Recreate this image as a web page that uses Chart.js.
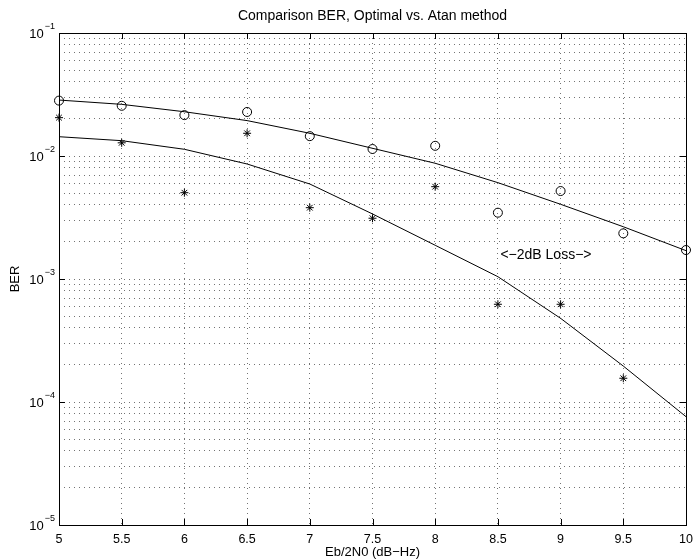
<!DOCTYPE html>
<html>
<head>
<meta charset="utf-8">
<title>Comparison BER, Optimal vs. Atan method</title>
<script src="https://cdn.jsdelivr.net/npm/chart.js"></script>
<style>
  html, body { margin: 0; padding: 0; background: #fff; }
  canvas { display: block; }
</style>
</head>
<body>
<canvas id="berChart" width="693" height="560"></canvas>
<script>
// Eb/2N0 steps (dB-Hz)
const ebn0 = [5, 5.5, 6, 6.5, 7, 7.5, 8, 8.5, 9, 9.5, 10];

// simulated points, optimal receiver (circles)
const optimalSim = [0.0282, 0.0256, 0.0215, 0.0228, 0.0145, 0.0114, 0.0121, 0.00346, 0.00519, 0.00235, 0.00172];

// simulated points, atan method (asterisks) - nothing shown at 10 dB
const atanSim = [0.0205, 0.0128, 0.00503, 0.0153, 0.0038, 0.00312, 0.00563, 0.000623, 0.000623, 0.000156, null];

// theory curves
const optimalTheory = [0.0285, 0.0263, 0.0229, 0.0194, 0.0153, 0.01155, 0.00873, 0.00607, 0.00405, 0.00266, 0.0017];
const atanTheory = [0.01435, 0.01332, 0.01134, 0.00861, 0.00592, 0.00338, 0.00188, 0.001044, 0.000479, 0.000196, 0.000076];

// y axis decades that get a label
const decades = [-5, -4, -3, -2, -1];

const FONT = "'Liberation Sans', Arial, Helvetica, sans-serif";

const toPoints = (ys) => ebn0.map((x, i) => ({ x: x, y: ys[i] })).filter(p => p.y !== null);

// every 1..9 x 10^e value so the dotted grid looks like matlab's log grid
const logGridValues = () => {
    const vals = [];
    for (let e = -5; e <= -2; e++) {
        for (let n = 1; n <= 9; n++) {
            vals.push(n * Math.pow(10, e));
        }
    }
    vals.push(0.1);
    return vals;
};

// box, inward ticks, y labels with superscripts, annotation text
const matlabAxes = {
    id: 'matlabAxes',
    beforeDatasetsDraw(chart) {
        const { ctx, chartArea: a, scales } = chart;
        ctx.save();
        ctx.strokeStyle = '#000';
        ctx.lineWidth = 1;
        ctx.setLineDash([]);
        ctx.beginPath();
        scales.x.ticks.forEach(t => {
            const px = Math.round(scales.x.getPixelForValue(t.value)) + 0.5;
            ctx.moveTo(px, a.top); ctx.lineTo(px, a.top + 6);
            ctx.moveTo(px, a.bottom); ctx.lineTo(px, a.bottom - 6);
        });
        decades.forEach(e => {
            const py = Math.round(scales.y.getPixelForValue(Math.pow(10, e))) + 0.5;
            ctx.moveTo(a.left, py); ctx.lineTo(a.left + 6, py);
            ctx.moveTo(a.right, py); ctx.lineTo(a.right - 6, py);
        });
        ctx.stroke();
        ctx.strokeRect(Math.round(a.left) + 0.5, Math.round(a.top) + 0.5,
            Math.round(a.right - a.left), Math.round(a.bottom - a.top));
        ctx.restore();
    },
    afterDraw(chart) {
        const { ctx, scales } = chart;
        ctx.save();
        ctx.fillStyle = '#000';
        decades.forEach(e => {
            const py = scales.y.getPixelForValue(Math.pow(10, e));
            const sup = '\u2212' + Math.abs(e);
            ctx.font = '9px ' + FONT;
            ctx.textAlign = 'right';
            ctx.textBaseline = 'middle';
            const supW = ctx.measureText(sup).width;
            ctx.fillText(sup, 55, py - 6);
            ctx.font = '13px ' + FONT;
            ctx.fillText('10', 55 - supW - 1, py + 1);
        });
        ctx.font = '14px ' + FONT;
        ctx.textAlign = 'left';
        ctx.textBaseline = 'middle';
        ctx.fillText('<\u22122dB Loss\u2212>', scales.x.getPixelForValue(8.52), scales.y.getPixelForValue(0.00157));
        ctx.restore();
    }
};

const ctx = document.getElementById('berChart').getContext('2d');

new Chart(ctx, {
    type: 'scatter',
    data: {
        datasets: [
            {
                label: 'Optimal theory',
                data: toPoints(optimalTheory),
                showLine: true,
                borderColor: '#000',
                borderWidth: 1,
                pointRadius: 0,
                tension: 0
            },
            {
                label: 'Atan theory',
                data: toPoints(atanTheory),
                showLine: true,
                borderColor: '#000',
                borderWidth: 1,
                pointRadius: 0,
                tension: 0
            },
            {
                label: 'Optimal simulated',
                data: toPoints(optimalSim),
                pointStyle: 'circle',
                pointRadius: 4.5,
                borderColor: '#000',
                backgroundColor: 'rgba(0,0,0,0)',
                borderWidth: 1,
                clip: false
            },
            {
                label: 'Atan simulated',
                data: toPoints(atanSim),
                pointStyle: 'star',
                pointRadius: 4,
                borderColor: '#000',
                backgroundColor: '#000',
                borderWidth: 1,
                clip: false
            }
        ]
    },
    options: {
        responsive: false,
        animation: false,
        events: [],
        layout: {
            padding: { top: 0, right: 0, bottom: 0, left: 0 }
        },
        plugins: {
            legend: { display: false },
            tooltip: { enabled: false },
            title: {
                display: true,
                fullSize: false,
                text: 'Comparison BER, Optimal vs. Atan method',
                color: '#000',
                font: { family: FONT, size: 14, weight: 'normal' },
                padding: { top: 8, bottom: 8.2 }
            }
        },
        scales: {
            x: {
                type: 'linear',
                min: 5,
                max: 10,
                afterFit: (scale) => {
                    scale.height = 35;
                    scale.paddingLeft = 0;
                    scale.paddingRight = 7; // plot box ends at x=686
                },
                ticks: {
                    stepSize: 0.5,
                    color: '#000',
                    padding: 7,
                    maxRotation: 0,
                    font: { family: FONT, size: 12.5 },
                    callback: (value) => String(value)
                },
                grid: {
                    color: 'rgba(0,0,0,0.55)',
                    lineWidth: 1,
                    drawTicks: false
                },
                border: { display: false, dash: [1, 4] },
                title: {
                    display: true,
                    text: 'Eb/2N0 (dB\u2212Hz)',
                    color: '#000',
                    font: { family: FONT, size: 13 },
                    padding: { top: 0, bottom: 0 }
                }
            },
            y: {
                type: 'logarithmic',
                min: 1e-5,
                max: 1e-1,
                afterFit: (scale) => { scale.width = 59; },
                afterBuildTicks: (scale) => {
                    scale.ticks = logGridValues().map(v => ({ value: v }));
                },
                ticks: { display: false },
                grid: {
                    color: 'rgba(0,0,0,0.55)',
                    lineWidth: 1,
                    drawTicks: false
                },
                border: { display: false, dash: [1, 4] },
                title: {
                    display: true,
                    text: 'BER',
                    color: '#000',
                    font: { family: FONT, size: 13 },
                    padding: { top: 8, bottom: 0 }
                }
            }
        }
    },
    plugins: [matlabAxes]
});
</script>
</body>
</html>
